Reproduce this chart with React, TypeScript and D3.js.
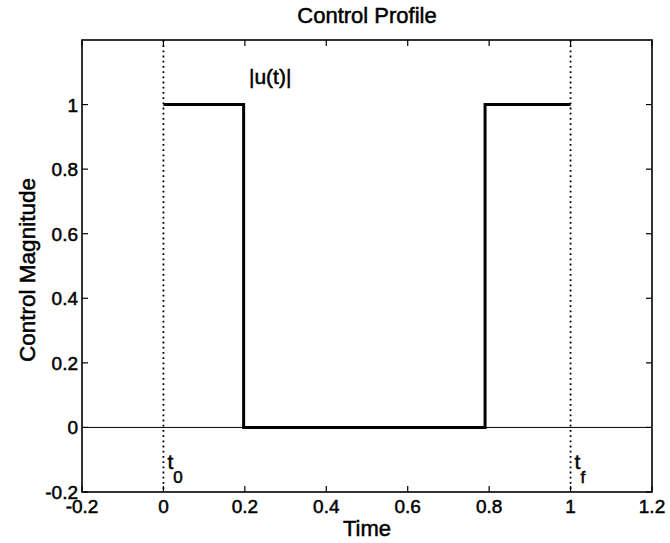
import * as d3 from "d3";

// control profile |u(t)|
const times = [0, 0.197, 0.197, 0.79, 0.79, 1];
const magnitude = [1, 1, 0, 0, 1, 1];

const xTicks = [-0.2, 0, 0.2, 0.4, 0.6, 0.8, 1, 1.2];
const yTicks = [-0.2, 0, 0.2, 0.4, 0.6, 0.8, 1];
const markers = [0, 1]; // t0, tf
const markerSubs = ["0", "f"];

const W = 670;
const H = 543;
const m = { left: 82, right: 18, top: 40, bottom: 51 };
const font = "'Liberation Sans', Arial, sans-serif";

const fmt = (v: number) => (v < 0 ? "-" : "") + String(Math.round(Math.abs(v) * 10) / 10);

export default function App() {
  const x = d3.scaleLinear().domain([-0.2, 1.2]).range([m.left, W - m.right]);
  const y = d3.scaleLinear().domain([-0.2, 1.2]).range([H - m.bottom, m.top]);
  const line = d3
    .line<number>()
    .x((_, i) => x(times[i]))
    .y((d) => y(d));

  const [x0, x1] = x.range();
  const [y0, y1] = y.range();
  const tk = 6;
  const ink = { stroke: "#000", strokeWidth: 0.5 };

  return (
    <svg
      width={W}
      height={H}
      style={{ position: "absolute", left: 0, top: 0, background: "#fff" }}
      fontFamily={font}
    >
      <text x={(x0 + x1) / 2} y={23} textAnchor="middle" fontSize={22} {...ink}>
        Control Profile
      </text>

      {/* zero line */}
      <line x1={x0} x2={x1} y1={y(0)} y2={y(0)} stroke="#000" strokeWidth={1} />

      {/* t0 / tf markers */}
      {markers.map((t) => (
        <line key={t} x1={x(t)} x2={x(t)} y1={y1} y2={y0} stroke="#000" strokeWidth={1.8} strokeDasharray="1.8 3.4" />
      ))}

      <path d={line(magnitude) ?? ""} fill="none" stroke="#000" strokeWidth={3} />

      {/* frame */}
      <rect x={x0} y={y1} width={x1 - x0} height={y0 - y1} fill="none" stroke="#000" strokeWidth={1.6} />

      {xTicks.map((t) => (
        <g key={"x" + t}>
          <line x1={x(t)} x2={x(t)} y1={y0} y2={y0 - tk} stroke="#000" strokeWidth={1.2} />
          <line x1={x(t)} x2={x(t)} y1={y1} y2={y1 + tk} stroke="#000" strokeWidth={1.2} />
          <text x={x(t)} y={y0 + 21} textAnchor="middle" fontSize={19} {...ink}>
            {fmt(t)}
          </text>
        </g>
      ))}
      {yTicks.map((t) => (
        <g key={"y" + t}>
          <line x1={x0} x2={x0 + tk} y1={y(t)} y2={y(t)} stroke="#000" strokeWidth={1.2} />
          <line x1={x1} x2={x1 - tk} y1={y(t)} y2={y(t)} stroke="#000" strokeWidth={1.2} />
          <text x={x0 - 4} y={y(t) + 7} textAnchor="end" fontSize={19} {...ink}>
            {fmt(t)}
          </text>
        </g>
      ))}

      <text x={(x0 + x1) / 2} y={536} textAnchor="middle" fontSize={22} {...ink}>
        Time
      </text>
      <text
        transform={`translate(35,${(y0 + y1) / 2 + 4}) rotate(-90)`}
        textAnchor="middle"
        fontSize={22.5}
        {...ink}
      >
        Control Magnitude
      </text>

      <text x={x(0.21)} y={y(1.065)} fontSize={21} {...ink}>
        |u(t)|
      </text>
      {markers.map((t, i) => (
        <text key={"m" + t} x={x(t) + 4} y={y(-0.13)} fontSize={21} {...ink}>
          t
          <tspan dy={14} fontSize={17}>
            {markerSubs[i]}
          </tspan>
        </text>
      ))}
    </svg>
  );
}
